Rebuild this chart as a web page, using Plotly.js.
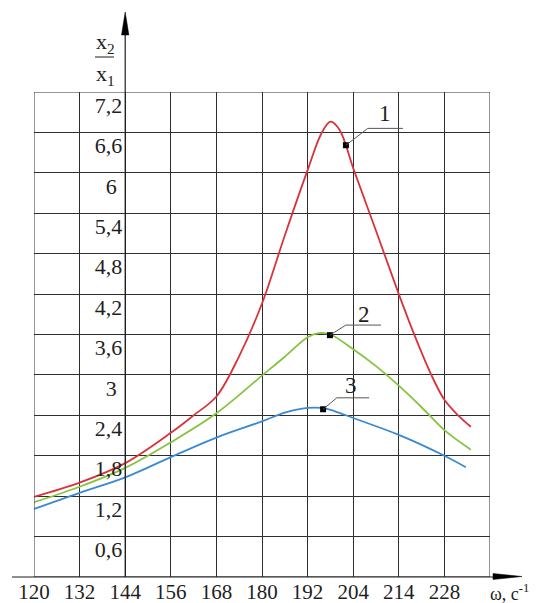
<!DOCTYPE html>
<html>
<head>
<meta charset="utf-8">
<script src="https://cdn.plot.ly/plotly-3.0.1.min.js"></script>
<style>html,body{margin:0;padding:0;background:#fff;}#chart{width:537px;height:603px;}</style>
</head>
<body>
<div id="chart"></div>
<script>
// Tick labels (grid columns are evenly spaced; labels as printed)
const xTickLabels = ["120","132","144","156","168","180","192","204","214","228",""];
const yTickValues = [0.6,1.2,1.8,2.4,3.0,3.6,4.2,4.8,5.4,6.0,6.6,7.2];
const yTickLabels = ["0,6","1,2","1,8","2,4","3\u00a0","3,6","4,2","4,8","5,4","6\u00a0","6,6","7,2"];

// Curve 1 (red): x = grid column position, y = x2/x1
const curve1X = [0, 1, 2, 3, 3.5, 4, 4.5, 5, 5.5, 6.0, 6.3, 6.5, 6.7, 7.0, 7.5, 8.0, 8.35, 8.7, 9.0, 9.3, 9.58];
const curve1Y = [1.19, 1.40, 1.69, 2.14, 2.40, 2.68, 3.28, 4.06, 5.07, 6.04, 6.58, 6.76, 6.64, 6.07, 5.14, 4.20, 3.58, 3.02, 2.63, 2.40, 2.23];

// Curve 2 (green)
const curve2X = [0, 1, 2, 3, 4, 5, 5.5, 6.0, 6.25, 6.5, 7.0, 7.5, 8.0, 8.5, 9.0, 9.58];
const curve2Y = [1.11, 1.34, 1.62, 2.00, 2.43, 2.99, 3.27, 3.56, 3.62, 3.60, 3.38, 3.13, 2.84, 2.52, 2.18, 1.89];

// Curve 3 (blue)
const curve3X = [0, 1, 2, 3, 4, 5, 5.5, 6.0, 6.3, 6.6, 7.0, 8.0, 9.0, 9.47];
const curve3Y = [1.01, 1.25, 1.48, 1.78, 2.07, 2.31, 2.44, 2.51, 2.51, 2.46, 2.36, 2.11, 1.80, 1.63];

// Label markers on the curves
const markerX = [6.84, 6.49, 6.34];
const markerY = [6.41, 3.59, 2.49];
const curveNames = ["1", "2", "3"];

// ---- geometry (pixels) ----
const W = 537, H = 603;
const L = 34, R = 490, T = 92, B = 577;
const px = v => (v - L) / (R - L);
const py = v => (B - v) / (B - T);
const serif = "Liberation Serif";
const ink = "#1e1e1e";
const gridC = "#2e2e2e";

const traces = [
  {x: curve1X, y: curve1Y, mode: "lines", line: {color: "#d8333a", width: 1.8, shape: "spline", smoothing: 1}, hoverinfo: "skip"},
  {x: curve2X, y: curve2Y, mode: "lines", line: {color: "#86c440", width: 1.8, shape: "spline", smoothing: 1}, hoverinfo: "skip"},
  {x: curve3X, y: curve3Y, mode: "lines", line: {color: "#3a8ad2", width: 1.8, shape: "spline", smoothing: 1}, hoverinfo: "skip"},
  {x: markerX, y: markerY, mode: "markers", marker: {symbol: "square", size: 6, color: "#000"}, hoverinfo: "skip"}
];

// leader lines (data coords): marker -> bend -> end
const leaders = [
  [[6.84, 6.41], [7.32, 6.66], [8.09, 6.66]],
  [[6.49, 3.59], [6.84, 3.74], [7.61, 3.74]],
  [[6.34, 2.49], [6.64, 2.66], [7.35, 2.66]]
];
const labelPos = [[7.70, 6.88], [7.24, 3.90], [6.95, 2.85]];

const shapes = [
  // border
  {type: "rect", xref: "x", yref: "y", x0: 0, x1: 10, y0: 0, y1: 7.2, line: {color: gridC, width: 1}},
  // horizontal axis line
  {type: "line", xref: "paper", yref: "paper", x0: px(12), x1: px(496), y0: py(577), y1: py(577), line: {color: ink, width: 1.2}},
  // horizontal arrow head
  {type: "path", xref: "paper", yref: "paper",
   path: `M ${px(522)},${py(576.5)} L ${px(493)},${py(573.5)} L ${px(493)},${py(579.5)} Z`,
   fillcolor: "#000", line: {color: "#000", width: 0.5}},
  // vertical axis line
  {type: "line", xref: "paper", yref: "paper", x0: px(125.2), x1: px(125.2), y0: py(577), y1: py(30), line: {color: ink, width: 1.2}},
  // vertical arrow head
  {type: "path", xref: "paper", yref: "paper",
   path: `M ${px(125.2)},${py(12)} L ${px(121.5)},${py(35)} L ${px(128.9)},${py(35)} Z`,
   fillcolor: "#000", line: {color: "#000", width: 0.5}},
  // fraction bar
  {type: "line", xref: "paper", yref: "paper", x0: px(95), x1: px(114), y0: py(57), y1: py(57), line: {color: ink, width: 1}}
];
leaders.forEach(p => shapes.push({
  type: "path", xref: "x", yref: "y",
  path: `M ${p[0][0]},${p[0][1]} L ${p[1][0]},${p[1][1]} L ${p[2][0]},${p[2][1]}`,
  line: {color: "#555", width: 1}
}));

const annotations = [
  {xref: "paper", yref: "paper", x: px(105), y: py(43), xanchor: "center", yanchor: "middle", text: "x<sub>2</sub>", showarrow: false, font: {family: serif, size: 22, color: ink}},
  {xref: "paper", yref: "paper", x: px(105), y: py(75), xanchor: "center", yanchor: "middle", text: "x<sub>1</sub>", showarrow: false, font: {family: serif, size: 22, color: ink}},
  {xref: "paper", yref: "paper", x: px(488), y: py(592), xanchor: "left", yanchor: "middle", text: "ω, c<sup>-1</sup>", showarrow: false, font: {family: serif, size: 18, color: ink}}
];
curveNames.forEach((n, i) => annotations.push({
  xref: "x", yref: "y", x: labelPos[i][0], y: labelPos[i][1], xanchor: "center", yanchor: "middle", text: n, showarrow: false,
  font: {family: serif, size: 23, color: ink}
}));

const layout = {
  width: W, height: H,
  margin: {l: L, r: W - R, t: T, b: H - B, pad: 0},
  paper_bgcolor: "#fff", plot_bgcolor: "#fff",
  font: {family: serif, color: ink},
  showlegend: false,
  xaxis: {
    range: [0, 10], tickmode: "array", tickvals: xTickLabels.map((_, i) => i), ticktext: xTickLabels,
    showgrid: true, gridcolor: gridC, gridwidth: 1, zeroline: false, showline: false, ticks: "",
    tickfont: {family: serif, size: 21, color: ink}, ticklabelstandoff: 0, fixedrange: true, automargin: false
  },
  yaxis: {
    range: [0, 7.2], anchor: "free", position: 0.2, tickmode: "array", tickvals: yTickValues, ticktext: yTickLabels,
    showgrid: true, gridcolor: gridC, gridwidth: 1, zeroline: false, showline: false, ticks: "",
    tickfont: {family: serif, size: 22, color: ink}, ticklabelshift: 13, ticklabelstandoff: 3,
    fixedrange: true, automargin: false
  },
  shapes: shapes,
  annotations: annotations
};

Plotly.newPlot("chart", traces, layout, {staticPlot: true, displayModeBar: false});
</script>
</body>
</html>
